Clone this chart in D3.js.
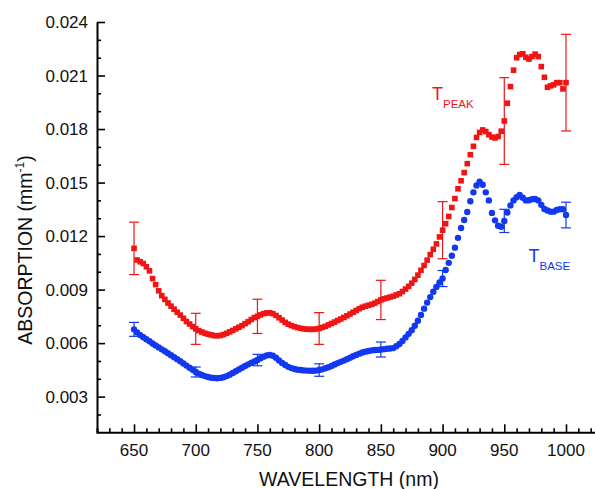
<!DOCTYPE html>
<html>
<head>
<meta charset="utf-8">
<script src="https://cdn.jsdelivr.net/npm/d3@7"></script>
<style>
  html, body { margin: 0; padding: 0; background: #fff; }
  svg { display: block; font-family: Arial, "Liberation Sans", sans-serif; }
</style>
</head>
<body>
<svg width="595" height="489"></svg>
<script>
const width = 595;
const height = 489;

// wavelength grid (nm), one sample every 2.5 nm
const wavelengths = d3.range(650, 1000.01, 2.5);

// T_PEAK absorption (mm^-1)
const peak = [
  0.01131, 0.01066, 0.01056, 0.01046, 0.01028, 0.01005, 0.00962, 0.00928, 0.00893, 0.00866,
  0.00845, 0.00825, 0.00807, 0.00790, 0.00773, 0.00757, 0.00739, 0.00721, 0.00707, 0.00693,
  0.00680, 0.00670, 0.00662, 0.00655, 0.00650, 0.00646, 0.00642, 0.00641, 0.00643, 0.00648,
  0.00655, 0.00663, 0.00671, 0.00680, 0.00689, 0.00698, 0.00709, 0.00720, 0.00732, 0.00743,
  0.00750, 0.00758, 0.00765, 0.00769, 0.00770, 0.00765, 0.00755, 0.00742, 0.00729, 0.00716,
  0.00706, 0.00698, 0.00692, 0.00687, 0.00683, 0.00680, 0.00678, 0.00677, 0.00677, 0.00679,
  0.00682, 0.00688, 0.00694, 0.00702, 0.00710, 0.00718, 0.00727, 0.00735, 0.00744, 0.00753,
  0.00763, 0.00773, 0.00783, 0.00793, 0.00801, 0.00807, 0.00812, 0.00817, 0.00824, 0.00833,
  0.00842, 0.00848, 0.00853, 0.00858, 0.00863, 0.00870, 0.00877, 0.00889, 0.00903, 0.00918,
  0.00936, 0.00957, 0.00981, 0.01008, 0.01035, 0.01065, 0.01096, 0.01126, 0.01156, 0.01195,
  0.01233, 0.01269, 0.01310, 0.01360, 0.01410, 0.01465, 0.01510, 0.01556, 0.01606, 0.01656,
  0.01703, 0.01753, 0.01781, 0.01795, 0.01786, 0.01768, 0.01755, 0.01750, 0.01758, 0.01788,
  0.01845, 0.01945, 0.02038, 0.02130, 0.02200, 0.02218, 0.02222, 0.02202, 0.02192, 0.02206,
  0.02220, 0.02206, 0.02150, 0.02090, 0.02034, 0.02042, 0.02048, 0.02060, 0.02060, 0.02025,
  0.02060
];

// T_BASE absorption (mm^-1)
const base = [
  0.00677, 0.00660, 0.00645, 0.00633, 0.00622, 0.00610, 0.00598, 0.00587, 0.00576, 0.00565,
  0.00554, 0.00543, 0.00532, 0.00521, 0.00510, 0.00498, 0.00486, 0.00474, 0.00462, 0.00450,
  0.00438, 0.00429, 0.00421, 0.00415, 0.00410, 0.00406, 0.00404, 0.00403, 0.00405, 0.00409,
  0.00415, 0.00423, 0.00432, 0.00442, 0.00452, 0.00462, 0.00472, 0.00481, 0.00489, 0.00497,
  0.00505, 0.00515, 0.00524, 0.00531, 0.00533, 0.00529, 0.00518, 0.00503, 0.00489, 0.00477,
  0.00467, 0.00460, 0.00455, 0.00451, 0.00449, 0.00447, 0.00446, 0.00445, 0.00445, 0.00446,
  0.00449, 0.00453, 0.00459, 0.00465, 0.00472, 0.00480, 0.00488, 0.00495, 0.00502, 0.00510,
  0.00518, 0.00526, 0.00534, 0.00541, 0.00547, 0.00552, 0.00556, 0.00559, 0.00561, 0.00562,
  0.00564, 0.00566, 0.00568, 0.00570, 0.00572, 0.00582, 0.00595, 0.00612, 0.00632, 0.00652,
  0.00672, 0.00697, 0.00725, 0.00758, 0.00793, 0.00827, 0.00858, 0.00888, 0.00915, 0.00940,
  0.00962, 0.01010, 0.01050, 0.01090, 0.01135, 0.01190, 0.01245, 0.01290, 0.01335, 0.01395,
  0.01445, 0.01484, 0.01505, 0.01488, 0.01445, 0.01400, 0.01330, 0.01288, 0.01258, 0.01252,
  0.01285, 0.01332, 0.01372, 0.01400, 0.01418, 0.01430, 0.01415, 0.01400, 0.01401, 0.01406,
  0.01408, 0.01400, 0.01375, 0.01352, 0.01344, 0.01337, 0.01337, 0.01346, 0.01350, 0.01350,
  0.01318
];

// error bars (half widths) every 50 nm
const errWavelengths = [650, 700, 750, 800, 850, 900, 950, 1000];
const peakErr = [0.00147, 0.00087, 0.00096, 0.00089, 0.00110, 0.00160, 0.00243, 0.00271];
const baseErr = [0.00039, 0.00028, 0.00032, 0.00035, 0.00042, 0.00045, 0.00065, 0.00072];

const xTicks = [650, 700, 750, 800, 850, 900, 950, 1000];
const yTicks = [0.003, 0.006, 0.009, 0.012, 0.015, 0.018, 0.021, 0.024];

const red = "#f01414";
const blue = "#1238f0";

const x = d3.scaleLinear().domain([620, 1024]).range([97, 97 + 404 * 1.2342]);
const y = d3.scaleLinear().domain([0.001, 0.024]).range([432.3, 22]);

const svg = d3.select("svg");

const seriesPeak = wavelengths.map((w, i) => ({ w, v: peak[i] }));
const seriesBase = wavelengths.map((w, i) => ({ w, v: base[i] }));

function drawErrors(series, errs, color) {
    const g = svg.append("g").attr("stroke", color).attr("stroke-width", 1.2).attr("fill", "none");
    errWavelengths.forEach((w, i) => {
        const d = series.find(p => p.w === w);
        const top = y(d.v + errs[i]), bot = y(d.v - errs[i]);
        const cx = x(w);
        g.append("line").attr("x1", cx).attr("x2", cx).attr("y1", top).attr("y2", bot);
        g.append("line").attr("x1", cx - 5).attr("x2", cx + 5).attr("y1", top).attr("y2", top);
        g.append("line").attr("x1", cx - 5).attr("x2", cx + 5).attr("y1", bot).attr("y2", bot);
    });
}

drawErrors(seriesPeak, peakErr, red);
drawErrors(seriesBase, baseErr, blue);

svg.append("g")
    .selectAll("rect")
    .data(seriesPeak)
    .join("rect")
    .attr("x", d => x(d.w) - 2.8)
    .attr("y", d => y(d.v) - 2.8)
    .attr("width", 5.6)
    .attr("height", 5.6)
    .attr("fill", red);

svg.append("g")
    .selectAll("circle")
    .data(seriesBase)
    .join("circle")
    .attr("cx", d => x(d.w))
    .attr("cy", d => y(d.v))
    .attr("r", 3.2)
    .attr("fill", blue);

// axes
const xAxis = svg.append("g").attr("transform", `translate(0,${y.range()[0]})`);
xAxis.call(d3.axisBottom(x).tickValues(d3.range(630, 1021, 10)).tickSize(-4).tickFormat(""));
xAxis.call(g => g.selectAll(".tick").filter(d => d % 50 === 0).select("line").attr("y2", -8));
xAxis.selectAll(".tick text").remove();
xAxis.select(".domain").attr("stroke-width", 2);
xAxis.selectAll(".tick line").attr("stroke-width", 1.6);

const yAxis = svg.append("g").attr("transform", `translate(${x.range()[0]},0)`);
yAxis.call(d3.axisLeft(y).tickValues(d3.range(2, 25).map(v => v / 1000)).tickSize(-4).tickFormat("").tickSizeOuter(0));
yAxis.call(g => g.selectAll(".tick").filter(d => yTicks.some(t => Math.abs(t - d) < 1e-9)).select("line").attr("x2", 8));
yAxis.select(".domain").attr("stroke-width", 2);
yAxis.selectAll(".tick line").attr("stroke-width", 1.6);

// tick labels
svg.append("g")
    .selectAll("text")
    .data(xTicks)
    .join("text")
    .attr("x", d => x(d))
    .attr("y", 456)
    .attr("text-anchor", "middle")
    .attr("font-size", 17)
    .attr("fill", "#111")
    .text(d => d);

svg.append("g")
    .selectAll("text")
    .data(yTicks)
    .join("text")
    .attr("x", 88)
    .attr("y", d => y(d))
    .attr("dy", "0.36em")
    .attr("text-anchor", "end")
    .attr("font-size", 17)
    .attr("fill", "#111")
    .text(d => d3.format(".3f")(d));

// axis titles
svg.append("text")
    .attr("x", 349)
    .attr("y", 486)
    .attr("text-anchor", "middle")
    .attr("font-size", 19.5)
    .attr("fill", "#111")
    .text("WAVELENGTH (nm)");

const yTitle = svg.append("text")
    .attr("transform", "translate(32,250) rotate(-90)")
    .attr("text-anchor", "middle")
    .attr("font-size", 19.5)
    .attr("fill", "#111");
yTitle.append("tspan").text("ABSORPTION (mm");
yTitle.append("tspan").attr("font-size", 12).attr("dy", -8).text("-1");
yTitle.append("tspan").attr("dy", 8).text(")");

// series labels
const lp = svg.append("text").attr("x", 432).attr("y", 100).attr("fill", red).attr("font-size", 18);
lp.append("tspan").text("T");
lp.append("tspan").attr("font-size", 11.5).attr("dy", 7.5).text("PEAK");

const lb = svg.append("text").attr("x", 528.5).attr("y", 262).attr("fill", blue).attr("font-size", 18);
lb.append("tspan").text("T");
lb.append("tspan").attr("font-size", 11.5).attr("dy", 8).text("BASE");
</script>
</body>
</html>
